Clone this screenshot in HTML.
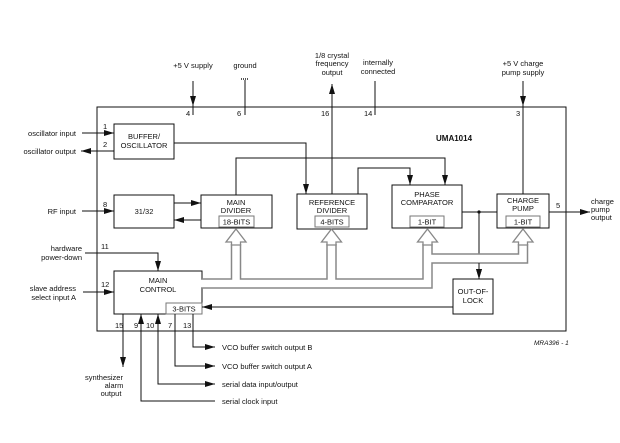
<!DOCTYPE html>
<html><head><meta charset="utf-8"><style>
html,body{margin:0;padding:0;background:#fff}
svg{display:block}
text{font-family:"Liberation Sans",sans-serif;font-size:7.5px;fill:#111}
.b{fill:#fff;stroke:#111;stroke-width:1}
.l{fill:none;stroke:#111;stroke-width:1}
</style></head><body>
<svg width="620" height="443" viewBox="0 0 620 443" xmlns="http://www.w3.org/2000/svg">
<defs>
<marker id="a" viewBox="0 0 10 6" refX="10" refY="3" markerWidth="10" markerHeight="6" markerUnits="userSpaceOnUse" orient="auto"><path d="M0,0L10,3L0,6z" fill="#111"/></marker>
</defs>
<!-- outer -->
<rect x="97" y="107" width="469" height="224" class="b"/>
<!-- top pins -->
<line x1="193" y1="81" x2="193" y2="115" class="l"/><line x1="193" y1="81" x2="193" y2="106" class="l" marker-end="url(#a)"/>
<text x="193" y="68" text-anchor="middle">+5 V supply</text><text x="186" y="116">4</text>
<line x1="245" y1="80" x2="245" y2="115" class="l"/><line x1="241" y1="79" x2="249" y2="79" stroke="#555" stroke-width="2" stroke-dasharray="1,1"/>
<text x="245" y="68" text-anchor="middle">ground</text><text x="237" y="116">6</text>
<line x1="332" y1="194" x2="332" y2="84" class="l" marker-end="url(#a)"/>
<text x="332" y="58" text-anchor="middle">1/8 crystal</text><text x="332" y="66" text-anchor="middle">frequency</text><text x="332" y="75" text-anchor="middle">output</text>
<text x="321" y="116">16</text>
<line x1="375" y1="81" x2="375" y2="115" class="l"/>
<text x="378" y="65" text-anchor="middle">internally</text><text x="378" y="74" text-anchor="middle">connected</text><text x="364" y="116">14</text>
<line x1="523" y1="81" x2="523" y2="194" class="l"/><line x1="523" y1="81" x2="523" y2="106" class="l" marker-end="url(#a)"/>
<text x="523" y="66" text-anchor="middle">+5 V charge</text><text x="523" y="75" text-anchor="middle">pump supply</text><text x="516" y="116">3</text>
<text x="436" y="141" font-weight="bold" style="font-size:8px">UMA1014</text>
<!-- left pins -->
<text x="76" y="136" text-anchor="end">oscillator input</text>
<line x1="82" y1="133" x2="114" y2="133" class="l" marker-end="url(#a)"/><text x="103" y="129">1</text>
<text x="76" y="154" text-anchor="end">oscillator output</text>
<line x1="114" y1="151" x2="81" y2="151" class="l" marker-end="url(#a)"/><text x="103" y="147">2</text>
<text x="76" y="214" text-anchor="end">RF input</text>
<line x1="82" y1="211" x2="114" y2="211" class="l" marker-end="url(#a)"/><text x="103" y="207">8</text>
<text x="82" y="251" text-anchor="end">hardware</text><text x="82" y="260" text-anchor="end">power-down</text>
<polyline points="85,253 158,253 158,271" class="l" marker-end="url(#a)"/><text x="101" y="249">11</text>
<text x="76" y="291" text-anchor="end">slave address</text><text x="76" y="300" text-anchor="end">select input A</text>
<line x1="83" y1="292" x2="114" y2="292" class="l" marker-end="url(#a)"/><text x="101" y="287">12</text>
<!-- boxes -->
<rect x="114" y="124" width="60" height="35" class="b"/>
<text x="144" y="139" text-anchor="middle">BUFFER/</text><text x="144" y="148" text-anchor="middle">OSCILLATOR</text>
<rect x="114" y="195" width="60" height="33" class="b"/><text x="144" y="214" text-anchor="middle">31/32</text>
<rect x="201" y="195" width="71" height="33" class="b"/>
<text x="236" y="205" text-anchor="middle">MAIN</text><text x="236" y="213" text-anchor="middle">DIVIDER</text>
<rect x="219" y="216" width="35" height="11" fill="#fff" stroke="#777"/><text x="236.5" y="224.5" text-anchor="middle">18-BITS</text>
<rect x="297" y="194" width="70" height="35" class="b"/>
<text x="332" y="205" text-anchor="middle">REFERENCE</text><text x="332" y="213" text-anchor="middle">DIVIDER</text>
<rect x="315" y="216" width="34" height="11" fill="#fff" stroke="#777"/><text x="332" y="224.5" text-anchor="middle">4-BITS</text>
<rect x="392" y="185" width="70" height="43" class="b"/>
<text x="427" y="197" text-anchor="middle">PHASE</text><text x="427" y="205" text-anchor="middle">COMPARATOR</text>
<rect x="410" y="216" width="34" height="11" fill="#fff" stroke="#777"/><text x="427" y="224.5" text-anchor="middle">1-BIT</text>
<rect x="497" y="194" width="52" height="34" class="b"/>
<text x="523" y="203" text-anchor="middle">CHARGE</text><text x="523" y="211" text-anchor="middle">PUMP</text>
<rect x="506" y="216" width="34" height="11" fill="#fff" stroke="#777"/><text x="523" y="224.5" text-anchor="middle">1-BIT</text>
<rect x="453" y="279" width="40" height="35" class="b"/>
<text x="473" y="294" text-anchor="middle">OUT-OF-</text><text x="473" y="303" text-anchor="middle">LOCK</text>
<rect x="114" y="271" width="88" height="43" class="b"/>
<text x="158" y="283" text-anchor="middle">MAIN</text><text x="158" y="292" text-anchor="middle">CONTROL</text>
<rect x="166" y="303" width="36" height="11" fill="#fff" stroke="#777"/><text x="184" y="311.5" text-anchor="middle">3-BITS</text>
<!-- internal connections -->
<polyline points="174,143 306,143 306,194" class="l" marker-end="url(#a)"/>
<line x1="174" y1="203" x2="201" y2="203" class="l" marker-end="url(#a)"/>
<line x1="201" y1="220" x2="174" y2="220" class="l" marker-end="url(#a)"/>
<polyline points="236,195 236,158 445,158 445,185" class="l" marker-end="url(#a)"/>
<polyline points="358,194 358,168 410,168 410,185" class="l" marker-end="url(#a)"/>
<line x1="462" y1="212" x2="497" y2="212" class="l"/>
<circle cx="479" cy="212" r="1.6" fill="#111"/>
<line x1="479" y1="212" x2="479" y2="279" class="l" marker-end="url(#a)"/>
<line x1="549" y1="212" x2="590" y2="212" class="l" marker-end="url(#a)"/><text x="556" y="208">5</text>
<text x="591" y="204">charge</text><text x="591" y="212">pump</text><text x="591" y="220">output</text>
<line x1="453" y1="307" x2="202" y2="307" class="l" marker-end="url(#a)"/>
<!-- bus pipes -->
<g fill="none" stroke-linejoin="miter" stroke-linecap="butt">
<g stroke="#888" stroke-width="10.5">
<polyline points="202,283.5 427.5,283.5 427.5,244"/>
<polyline points="427.5,258.5 523,258.5 523,244"/>
<line x1="236" y1="283.5" x2="236" y2="244"/><line x1="331.5" y1="283.5" x2="331.5" y2="244"/>
</g>
<g stroke="#fff" stroke-width="7.5">
<polyline points="201,283.5 427.5,283.5 427.5,243"/>
<polyline points="427.5,258.5 523,258.5 523,243"/>
<line x1="236" y1="283.5" x2="236" y2="243"/><line x1="331.5" y1="283.5" x2="331.5" y2="243"/>
</g>
</g>
<line x1="479" y1="263" x2="479" y2="279" class="l" marker-end="url(#a)"/>
<g fill="#fff" stroke="#888" stroke-width="1.3">
<polygon points="236,229 246,242 240.5,242 240.5,245 231.5,245 231.5,242 226,242"/>
<polygon points="331.5,229 341.5,242 336,242 336,245 327,245 327,242 321.5,242"/>
<polygon points="427.5,229 437.5,242 432,242 432,245 423,245 423,242 417.5,242"/>
<polygon points="523,229 533,242 527.5,242 527.5,245 518.5,245 518.5,242 513,242"/>
</g>
<!-- bottom pins -->
<text x="115" y="328">15</text><text x="134" y="328">9</text><text x="146" y="328">10</text><text x="168" y="328">7</text><text x="183" y="328">13</text>
<line x1="123" y1="314" x2="123" y2="367" class="l" marker-end="url(#a)"/>
<text x="104" y="380" text-anchor="middle">synthesizer</text><text x="114" y="388" text-anchor="middle">alarm</text><text x="111" y="396" text-anchor="middle">output</text>
<polyline points="215,401 141,401 141,314" class="l" marker-end="url(#a)"/>
<polyline points="158,314 158,384 215,384" class="l"/><line x1="158" y1="384" x2="158" y2="314" class="l" marker-end="url(#a)"/>
<line x1="200" y1="384" x2="215" y2="384" class="l" marker-end="url(#a)"/>
<polyline points="175,314 175,366 215,366" class="l" marker-end="url(#a)"/>
<polyline points="193,314 193,347 215,347" class="l" marker-end="url(#a)"/>
<text x="222" y="350">VCO buffer switch output B</text>
<text x="222" y="369">VCO buffer switch output A</text>
<text x="222" y="387">serial data input/output</text>
<text x="222" y="404">serial clock input</text>
<text x="534" y="345" font-style="italic" style="font-size:6.5px">MRA396 - 1</text>
</svg>
</body></html>
